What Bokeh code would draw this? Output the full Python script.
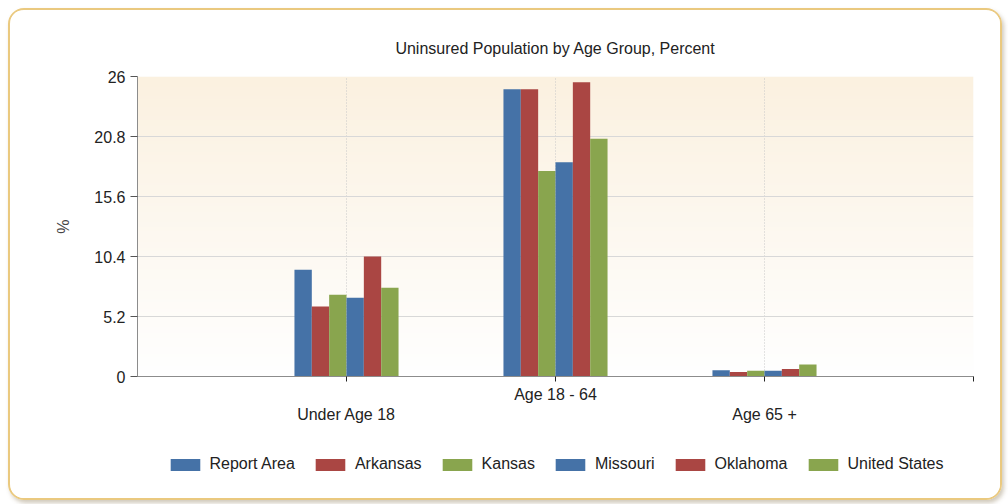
import numpy as np
from bokeh.plotting import figure
from bokeh.layouts import column
from bokeh.models import (FixedTicker, LinearAxis, Legend, LegendItem, Range1d)
from bokeh.embed import file_html
from bokeh.resources import INLINE

# ---------------- data ----------------
categories = ["Under Age 18", "Age 18 - 64", "Age 65 +"]
series_names = ["Report Area", "Arkansas", "Kansas", "Missouri", "Oklahoma", "United States"]
report_area = [9.25, 24.9, 0.55]
arkansas = [6.07, 24.9, 0.40]
kansas = [7.08, 17.8, 0.50]
missouri = [6.82, 18.57, 0.50]
oklahoma = [10.4, 25.5, 0.65]
united_states = [7.69, 20.6, 1.05]
y_ticks = [0, 5.2, 10.4, 15.6, 20.8, 26]
y_tick_labels = ["0", "5.2", "10.4", "15.6", "20.8", "26"]
series_values = [report_area, arkansas, kansas, missouri, oklahoma, united_states]
colors = ["#4572A7", "#AA4643", "#89A54E", "#4572A7", "#AA4643", "#89A54E"]

FONT = "Liberation Sans"
FS = "16px"

n_cat = len(categories)
x_max = n_cat + 1
cat_pos = np.arange(1, n_cat + 1)

p = figure(width=990, height=420, output_backend="svg", toolbar_location=None,
           x_range=Range1d(0, x_max), y_range=Range1d(0, y_ticks[-1]),
           min_border_left=127, min_border_right=27, min_border_top=66,
           min_border_bottom=54, background_fill_color="white",
           border_fill_color="white", outline_line_color=None)

# background gradient in plot area
N = 200
t = np.linspace(0, 1, N)  # 0 bottom -> 1 top
top = np.array([251, 241, 224])
bot = np.array([255, 255, 255])
cols = (bot[None, :] * (1 - t[:, None]) + top[None, :] * t[:, None]).astype(np.uint8)
img = np.empty((N, 1), dtype=np.uint32)
view = img.view(dtype=np.uint8).reshape((N, 1, 4))
view[:, 0, 0] = cols[:, 0]
view[:, 0, 1] = cols[:, 1]
view[:, 0, 2] = cols[:, 2]
view[:, 0, 3] = 255
p.image_rgba(image=[img], x=0, y=0, dw=x_max, dh=y_ticks[-1], level="image")

# bars
n_series = len(series_names)
bar_w = 0.083
for i, (name, vals, col) in enumerate(zip(series_names, series_values, colors)):
    xs = cat_pos + (i - (n_series - 1) / 2) * bar_w
    p.vbar(x=xs, top=vals, width=bar_w, bottom=0, fill_color=col, line_color=None)

# grids
p.ygrid.ticker = FixedTicker(ticks=y_ticks)
p.ygrid.grid_line_color = "#D8D8D8"
p.xgrid.ticker = FixedTicker(ticks=list(range(1, x_max + 1)))
p.xgrid.grid_line_color = "#C8C8C8"
p.xgrid.grid_line_dash = "1 2"

# y axis
ya = p.yaxis[0]
ya.ticker = FixedTicker(ticks=y_ticks)
ya.major_label_overrides = {t_: l for t_, l in zip(y_ticks, y_tick_labels)}
ya.axis_label = "%"
ya.axis_label_text_font = FONT
ya.axis_label_text_font_style = "normal"
ya.axis_label_text_font_size = FS
ya.axis_label_standoff = 19
ya.major_label_text_font = FONT
ya.major_label_text_font_size = FS
ya.major_label_text_color = "#222222"
ya.axis_line_color = "#8C8C8C"
ya.major_tick_line_color = "#555555"
ya.major_tick_out = 7
ya.major_tick_in = 0
ya.minor_tick_line_color = None

# x axis (first row labels)
xa = p.xaxis[0]
xa.ticker = FixedTicker(ticks=list(range(1, x_max + 1)))
lab1 = {}
for k in range(1, x_max + 1):
    lab1[k] = categories[k - 1] if (k <= n_cat and k % 2 == 0) else " "
xa.major_label_overrides = lab1
xa.major_label_text_font = FONT
xa.major_label_text_font_size = FS
xa.major_label_text_color = "#222222"
xa.axis_line_color = "#8C8C8C"
xa.major_tick_line_color = "#222222"
xa.major_tick_out = 5
xa.major_tick_in = 0
xa.minor_tick_line_color = None
xa.major_label_standoff = 4

# x axis second row (staggered labels)
xa2 = LinearAxis(ticker=FixedTicker(ticks=[k for k in range(1, n_cat + 1) if k % 2 == 1]))
xa2.major_label_overrides = {k: categories[k - 1] for k in range(1, n_cat + 1) if k % 2 == 1}
xa2.major_label_text_font = FONT
xa2.major_label_text_font_size = FS
xa2.major_label_text_color = "#222222"
xa2.axis_line_color = None
xa2.major_tick_line_color = None
xa2.minor_tick_line_color = None
xa2.major_tick_out = 0
xa2.major_label_standoff = 0
p.add_layout(xa2, "below")

# title
p.title.text = "Uninsured Population by Age Group, Percent"
p.title.align = "center"
p.title.text_font = FONT
p.title.text_font_style = "normal"
p.title.text_font_size = FS
p.title.text_color = "#222222"
p.title.standoff = 39

# legend strip (separate figure under the chart, no axes); proxy glyphs lie outside its view
pl = figure(width=990, height=68, output_backend="svg", toolbar_location=None,
            x_range=Range1d(0, 1), y_range=Range1d(0, 1), min_border=0,
            x_axis_location=None, y_axis_location=None,
            background_fill_color="white", border_fill_color="white",
            outline_line_color=None)
pl.grid.visible = False
items = []
for name, col in zip(series_names, colors):
    r = pl.vbar(x=[-5.0], top=[-5.0], bottom=-6.0, width=0.1, fill_color=col,
                line_color=None)
    items.append(LegendItem(label=name, renderers=[r]))
legend = Legend(items=items, orientation="horizontal", location="center",
                glyph_width=37, glyph_height=15, label_standoff=6, spacing=17,
                label_text_font=FONT, label_text_font_size=FS,
                label_text_color="#222222", border_line_color=None,
                background_fill_alpha=0, margin=0, padding=2)
pl.add_layout(legend)

layout = column(p, pl, spacing=0)
layout.styles = {"border": "2px solid #EAC97F", "border-radius": "16px",
                 "box-shadow": "2px 3px 4px rgba(120,100,60,0.35)",
                 "margin-left": "8px", "margin-top": "8px", "overflow": "hidden"}

open("out.html", "w").write(file_html(layout, INLINE))
